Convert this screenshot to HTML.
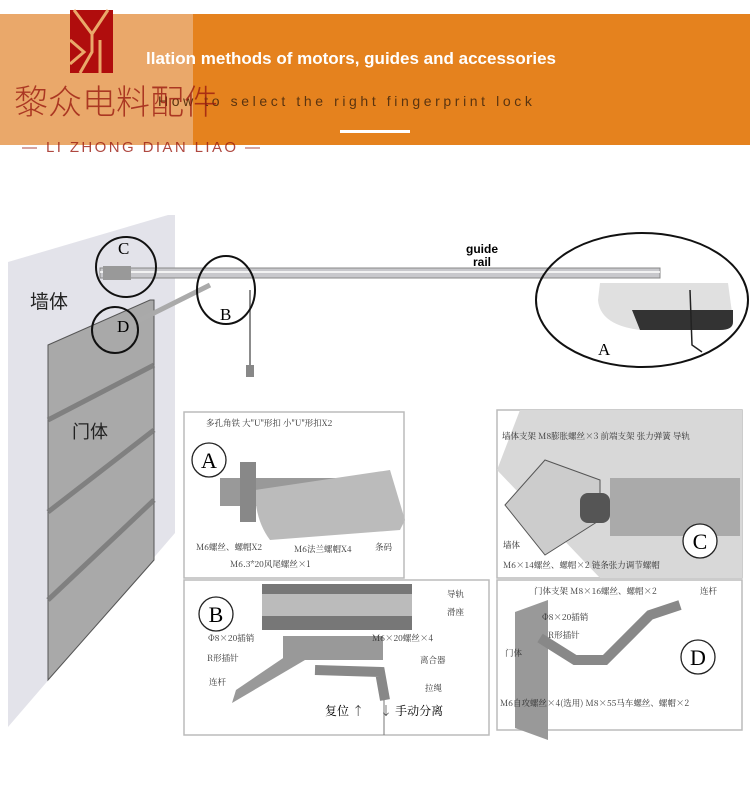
<!DOCTYPE html>
<html><head><meta charset="utf-8"><style>
body{margin:0;width:750px;height:791px;background:#fff;overflow:hidden;font-family:"Liberation Serif","Noto Serif CJK SC",serif}
svg{position:absolute;left:0;top:0}
</style></head><body>
<svg width="750" height="791" viewBox="0 0 750 791">
<!-- header -->
<rect x="193" y="14" width="557" height="131" fill="#e5821e"/>
<rect x="0" y="14" width="193" height="131" fill="#eaa86a"/>
<rect x="70" y="10" width="43" height="63" fill="#b00d0d"/>
<g stroke="#eaa86a" stroke-width="3" fill="none">
<polyline points="74,10 92,34 108,10"/>
<polyline points="70,40 84,52 70,64"/>
<polyline points="92,34 92,52 80,73"/>
<line x1="100" y1="40" x2="100" y2="73"/>
</g>
<text x="146" y="64" font-family="Liberation Sans,sans-serif" font-weight="bold" font-size="17" fill="#fff">llation methods of motors, guides and accessories</text>
<text x="158" y="106" font-family="Liberation Sans,sans-serif" font-size="14" letter-spacing="3.6" fill="#5a3410">How to select the right fingerprint lock</text>
<rect x="340" y="130" width="70" height="3" fill="#fff"/>
<text x="14" y="114" font-family="Noto Sans CJK SC,sans-serif" font-weight="300" font-size="34" fill="#9b1a10" fill-opacity="0.8">黎众电料配件</text>
<text x="22" y="152" font-family="Liberation Sans,sans-serif" font-size="15" fill="#9b1a10" fill-opacity="0.8" textLength="238">— LI ZHONG DIAN LIAO —</text>
<!-- wall -->
<polygon points="8,262 168,215 175,215 175,533 8,727" fill="#e3e3ea"/>
<polygon points="48,345 150,300 154,300 154,560 48,680" fill="#a9a9a9" stroke="#555" stroke-width="1"/>
<g stroke="#777" stroke-width="5" opacity="0.8">
<line x1="48" y1="420" x2="154" y2="365"/>
<line x1="48" y1="512" x2="154" y2="430"/>
<line x1="48" y1="600" x2="154" y2="500"/>
</g>
<text x="30" y="308" font-family="Noto Sans CJK SC,sans-serif" font-size="19" fill="#222">墙体</text>
<text x="72" y="438" font-family="Noto Sans CJK SC,sans-serif" font-size="18" fill="#222">门体</text>
<!-- rail -->
<rect x="100" y="268" width="560" height="10" fill="#c8c8cc" stroke="#888" stroke-width="1"/>
<line x1="100" y1="272" x2="660" y2="272" stroke="#fff" stroke-width="1.5"/>
<rect x="103" y="266" width="28" height="14" fill="#999"/>
<line x1="120" y1="330" x2="210" y2="285" stroke="#aaa" stroke-width="5"/>
<line x1="250" y1="290" x2="250" y2="365" stroke="#666" stroke-width="1.5"/>
<rect x="246" y="365" width="8" height="12" fill="#888"/>
<text x="482" y="253" font-family="Liberation Sans,sans-serif" font-weight="bold" font-size="12" text-anchor="middle">guide</text>
<text x="482" y="266" font-family="Liberation Sans,sans-serif" font-weight="bold" font-size="12" text-anchor="middle">rail</text>
<!-- motor -->
<path d="M600,283 L728,283 L733,320 Q733,330 720,330 L640,330 Q600,325 598,300 Z" fill="#e0e0e0"/>
<path d="M632,310 L733,310 L733,322 Q733,330 720,330 L640,330 Z" fill="#333"/>
<path d="M690,290 L692,345 L702,352" stroke="#222" stroke-width="1.5" fill="none"/>
<g fill="none" stroke="#111" stroke-width="2">
<circle cx="126" cy="267" r="30"/>
<circle cx="115" cy="330" r="23"/>
<ellipse cx="226" cy="290" rx="29" ry="34"/>
<ellipse cx="642" cy="300" rx="106" ry="67"/>
</g>
<text x="118" y="254" font-size="17">C</text>
<text x="117" y="332" font-size="17">D</text>
<text x="220" y="320" font-size="17">B</text>
<text x="598" y="355" font-size="17">A</text>
<!-- panels -->
<g stroke="#bbb" stroke-width="1.5" fill="#fff">
<rect x="184" y="412" width="220" height="166"/>
<rect x="497" y="410" width="245" height="168"/>
<rect x="184" y="580" width="305" height="155"/>
<rect x="497" y="580" width="245" height="150"/>
</g>
<rect x="220" y="478" width="160" height="28" fill="#999"/>
<path d="M255,490 L390,470 L405,520 L400,530 L270,540 Q255,520 255,490Z" fill="#bbb"/>
<rect x="240" y="462" width="16" height="60" fill="#888"/>
<polygon points="497,470 520,410 742,410 742,578 600,578" fill="#d8d8d8"/>
<rect x="610" y="478" width="130" height="58" fill="#aaa"/>
<polygon points="505,505 545,460 600,480 600,520 545,555" fill="#ccc" stroke="#555"/>
<g fill="#555"><rect x="580" y="493" width="30" height="30" rx="8"/></g>
<rect x="262" y="584" width="150" height="46" fill="#777"/>
<rect x="262" y="594" width="150" height="22" fill="#bbb"/>
<rect x="283" y="636" width="100" height="24" fill="#999"/>
<polygon points="232,703 236,690 295,650 305,660" fill="#999"/>
<path d="M315,670 L380,672 L385,700" stroke="#888" stroke-width="10" fill="none"/>
<line x1="384" y1="700" x2="384" y2="735" stroke="#777"/>
<polygon points="515,612 548,600 548,740 515,728" fill="#999"/>
<path d="M540,638 L575,660 L605,660 L650,615 L680,605" stroke="#888" stroke-width="10" fill="none"/>
<g font-size="8.5" fill="#333" font-family="Noto Serif CJK SC,serif">
<text x="206" y="426">多孔角铁  大"U"形扣 小"U"形扣X2</text>
<text x="196" y="550">M6螺丝、螺帽X2</text>
<text x="294" y="552">M6法兰螺帽X4</text>
<text x="230" y="567">M6.3*20风尾螺丝×1</text>
<text x="375" y="550">条码</text>
<text x="502" y="439">墙体支架 M8膨胀螺丝×3 前端支架 张力弹簧 导轨</text>
<text x="503" y="548">墙体</text>
<text x="503" y="568">M6×14螺丝、螺帽×2 链条张力调节螺帽</text>
<text x="447" y="597">导轨</text>
<text x="447" y="615">滑座</text>
<text x="208" y="641">Φ8×20插销</text>
<text x="372" y="641">M6×20螺丝×4</text>
<text x="207" y="661">R形插针</text>
<text x="420" y="663">离合器</text>
<text x="209" y="685">连杆</text>
<text x="425" y="691">拉绳</text>
<text x="534" y="594">门体支架  M8×16螺丝、螺帽×2</text>
<text x="700" y="594">连杆</text>
<text x="542" y="620">Φ8×20插销</text>
<text x="548" y="638">R形插针</text>
<text x="505" y="656">门体</text>
<text x="500" y="706">M6自攻螺丝×4(选用) M8×55马车螺丝、螺帽×2</text>
</g>
<text x="325" y="715" font-size="12" font-family="Noto Serif CJK SC,serif">复位 ↑</text>
<text x="380" y="715" font-size="12" font-family="Noto Serif CJK SC,serif">↓ 手动分离</text>
<g fill="#fff" stroke="#222" stroke-width="1.3">
<circle cx="209" cy="460" r="17"/><circle cx="700" cy="541" r="17"/>
<circle cx="216" cy="614" r="17"/><circle cx="698" cy="657" r="17"/>
</g>
<g font-size="22" text-anchor="middle">
<text x="209" y="468">A</text><text x="700" y="549">C</text>
<text x="216" y="622">B</text><text x="698" y="665">D</text>
</g>
</svg>
</body></html>
